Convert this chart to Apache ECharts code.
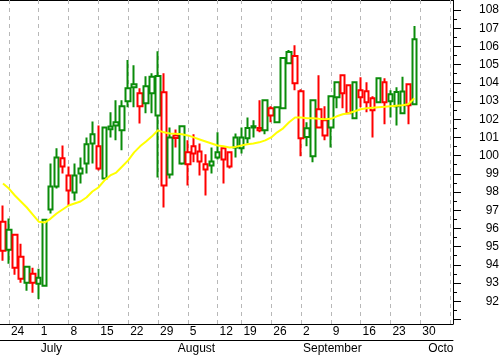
<!DOCTYPE html>
<html>
<head>
<meta charset="utf-8">
<script src="https://cdn.jsdelivr.net/npm/echarts@6.0.0/dist/echarts.min.js"></script>
<style>
  html, body { margin: 0; padding: 0; background: #fff; }
  #chart { width: 502px; height: 355px; }
</style>
</head>
<body>
<div id="chart"></div>
<script>
// trading days shown on the axis (Jun 21 .. Oct 7, 2013)
const dates = [
  "2013-06-21",
  "2013-06-24", "2013-06-25", "2013-06-26", "2013-06-27", "2013-06-28",
  "2013-07-01", "2013-07-02", "2013-07-03", "2013-07-04", "2013-07-05",
  "2013-07-08", "2013-07-09", "2013-07-10", "2013-07-11", "2013-07-12",
  "2013-07-15", "2013-07-16", "2013-07-17", "2013-07-18", "2013-07-19",
  "2013-07-22", "2013-07-23", "2013-07-24", "2013-07-25", "2013-07-26",
  "2013-07-29", "2013-07-30", "2013-07-31", "2013-08-01", "2013-08-02",
  "2013-08-05", "2013-08-06", "2013-08-07", "2013-08-08", "2013-08-09",
  "2013-08-12", "2013-08-13", "2013-08-14", "2013-08-15",
  "2013-08-19", "2013-08-20", "2013-08-21", "2013-08-22", "2013-08-23",
  "2013-08-26", "2013-08-27", "2013-08-28", "2013-08-29", "2013-08-30",
  "2013-09-02", "2013-09-03", "2013-09-04", "2013-09-05", "2013-09-06",
  "2013-09-09", "2013-09-10", "2013-09-11", "2013-09-12", "2013-09-13",
  "2013-09-16", "2013-09-17", "2013-09-18", "2013-09-19", "2013-09-20",
  "2013-09-23", "2013-09-24", "2013-09-25", "2013-09-26", "2013-09-27",
  "2013-09-30", "2013-10-01", "2013-10-02", "2013-10-03", "2013-10-04",
  "2013-10-07"
];

const opens = [
  96.37, 94.83, 95.66, 94.45, 93.01, 93.51, 92.96, 92.85, 97.04, 98.30,
  99.85, 98.91, 97.97, 99.02, 99.57, 100.67, 100.51, 98.74, 101.45, 101.83,
  101.39, 102.99, 103.92, 102.71, 102.88, 103.43, 102.21, 103.48, 98.96, 101.11,
  99.57, 99.52, 100.51, 100.23, 99.24, 99.46, 99.90, 100.40, 100.18, 101.00,
  100.40, 100.95, 101.62, 101.52, 101.39, 102.60, 101.83, 102.60, 105.08, 105.47,
  103.54, 101.50, 99.96, 102.55, 101.94, 101.55, 103.21, 104.42, 103.87, 102.05,
  103.59, 103.54, 103.15, 102.93, 104.03, 103.37, 102.71, 102.33, 103.92, 102.82
];
const highs = [
  97.26, 96.54, 95.71, 95.16, 93.95, 93.84, 93.79, 96.50, 99.57, 100.40,
  100.56, 99.40, 99.57, 99.90, 101.00, 101.88, 101.66, 101.60, 102.38, 103.04,
  103.04, 105.25, 104.97, 103.70, 104.36, 104.53, 105.74, 104.53, 101.55, 101.44,
  101.65, 100.84, 101.17, 100.67, 100.07, 100.45, 101.28, 100.40, 100.18, 101.22,
  101.55, 102.10, 101.94, 103.04, 103.04, 102.71, 102.70, 105.40, 105.80, 106.07,
  103.65, 101.83, 103.04, 104.42, 102.71, 103.26, 104.03, 104.42, 103.90, 104.05,
  104.31, 104.03, 103.26, 104.31, 104.25, 103.59, 103.76, 104.33, 103.98, 107.12
];
const lows = [
  94.23, 94.06, 93.45, 93.01, 92.57, 92.46, 92.13, 92.80, 96.82, 98.20,
  99.02, 97.26, 97.53, 98.47, 99.02, 99.57, 99.18, 98.70, 101.00, 100.84,
  100.29, 102.66, 102.66, 101.77, 102.33, 102.33, 98.80, 97.15, 98.74, 100.45,
  99.50, 98.36, 99.63, 98.91, 97.81, 99.02, 99.79, 98.47, 99.29, 99.90,
  100.12, 100.67, 101.00, 101.28, 101.17, 101.83, 101.80, 102.58, 105.05, 103.59,
  99.96, 100.51, 99.63, 101.50, 100.84, 100.45, 102.60, 102.60, 102.30, 102.00,
  102.66, 102.38, 101.00, 102.90, 101.72, 102.10, 101.66, 102.30, 101.72, 102.80
];
const closes = [
  94.78, 95.93, 93.84, 93.23, 93.90, 93.01, 93.29, 96.48, 98.30, 99.90,
  99.40, 98.08, 98.91, 99.29, 100.62, 101.17, 99.29, 101.55, 101.60, 101.65,
  102.71, 103.70, 103.75, 103.43, 103.81, 104.33, 104.38, 98.36, 101.00, 100.97,
  101.61, 100.18, 100.12, 99.68, 99.52, 99.68, 100.18, 99.79, 99.40, 100.45,
  101.00, 101.52, 101.54, 101.40, 103.04, 102.21, 102.66, 105.36, 105.69, 103.98,
  100.95, 101.02, 103.04, 101.55, 101.11, 103.26, 104.03, 103.43, 102.33, 104.03,
  103.21, 102.93, 102.49, 104.25, 102.93, 102.99, 103.50, 103.52, 102.77, 106.40
];
// close of the session before the first one shown
const prevClose = 96.2;

// moving average (yellow)
const ma = [
  98.47, 98.19, 97.81, 97.48, 97.15, 96.76, 96.37, 96.32, 96.54, 96.82,
  97.04, 97.26, 97.37, 97.48, 97.70, 98.03, 98.25, 98.63, 98.91, 99.07,
  99.40, 99.74, 100.18, 100.51, 100.78, 101.06, 101.39, 101.28, 101.22, 101.20,
  101.17, 101.11, 101.00, 100.89, 100.78, 100.67, 100.56, 100.51, 100.45, 100.48,
  100.56, 100.62, 100.67, 100.73, 100.84, 101.00, 101.28, 101.50, 101.83, 102.10,
  102.10, 102.05, 102.05, 102.02, 102.00, 102.02, 102.16, 102.27, 102.33, 102.44,
  102.55, 102.60, 102.63, 102.66, 102.68, 102.71, 102.74, 102.77, 102.82, 103.15
];

const yLabels = [92, 93, 94, 95, 96, 97, 98, 99, 100, 101, 102, 103, 104, 105, 106, 107, 108];
const yTicks = [91, 92, 93, 94, 95, 96, 97, 98, 99, 100, 101, 102, 103, 104, 105, 106, 107, 108];
const yMinorTicks = [91.5, 92.5, 93.5, 94.5, 95.5, 96.5, 97.5, 98.5, 99.5, 100.5,
  101.5, 102.5, 103.5, 104.5, 105.5, 106.5, 107.5];
const monthNames = ["January", "February", "March", "April", "May", "June", "July",
  "August", "September", "October", "November", "December"];

const GREEN = "#0a8c0a";
const RED = "#ff0000";
const FONT = "Liberation Sans, Arial, sans-serif";

const isMonday = (i) => new Date(dates[i] + "T00:00:00Z").getUTCDay() === 1;
const isMonthStart = (i) => i > 0 && dates[i].slice(5, 7) !== dates[i - 1].slice(5, 7);
const lastMonthStart = dates.reduce((acc, d, i) => (isMonthStart(i) ? i : acc), 0);

// hollow when close > open, red when close below previous close
const candles = opens.map((o, i) => {
  const c = closes[i];
  const prev = i === 0 ? prevClose : closes[i - 1];
  const col = c >= prev ? GREEN : RED;
  return {
    value: [o, c, lows[i], highs[i]],
    itemStyle: { color: "#fff", color0: col, borderColor: col, borderColor0: col },
  };
});
const mondays = dates.filter((d, i) => isMonday(i));

const monthAxisBase = {
  type: "category",
  data: dates,
  position: "bottom",
  offset: 16,
  axisLabel: {
    align: "left",
    padding: [0, 0, 0, 2],
    margin: 3,
    color: "#000",
    fontSize: 12,
    fontFamily: FONT,
    formatter: (v) => monthNames[Number(v.slice(5, 7)) - 1],
  },
  splitLine: { show: false },
};

const chart = echarts.init(document.getElementById("chart"));
chart.setOption({
  animation: false,
  grid: { left: 0, right: 48, top: 0, bottom: 31 },
  xAxis: [
    {
      type: "category",
      data: dates,
      position: "bottom",
      axisLine: { lineStyle: { color: "#000", width: 1 } },
      axisTick: {
        alignWithLabel: true,
        interval: (i) => isMonday(i),
        length: 16,
        lineStyle: { color: "#000" },
      },
      axisLabel: {
        interval: (i) => isMonday(i) && i < dates.length - 1,
        formatter: (v) => String(Number(v.slice(8, 10))),
        align: "left",
        padding: [0, 0, 0, 2],
        margin: 2,
        color: "#000",
        fontSize: 12,
        fontFamily: FONT,
      },
      splitLine: { show: false },
    },
    Object.assign({}, monthAxisBase, {
      axisLine: { lineStyle: { color: "#000", width: 1 } },
      axisTick: {
        alignWithLabel: true,
        interval: (i) => isMonthStart(i),
        length: 15,
        lineStyle: { color: "#000" },
      },
      axisLabel: Object.assign({}, monthAxisBase.axisLabel, {
        interval: (i) => isMonthStart(i) && i !== lastMonthStart,
      }),
    }),
    // last month name gets cut at the right edge of the plot
    Object.assign({}, monthAxisBase, {
      axisLine: { show: false },
      axisTick: { show: false },
      axisLabel: Object.assign({}, monthAxisBase.axisLabel, {
        interval: (i) => i === lastMonthStart,
        width: 28,
        overflow: "truncate",
        ellipsis: "",
      }),
    }),
    {
      type: "category",
      data: dates,
      position: "top",
      axisLine: { lineStyle: { color: "#000", width: 1 } },
      axisTick: { show: false },
      axisLabel: { show: false },
    },
  ],
  yAxis: [
    {
      type: "value",
      position: "right",
      min: 90.75,
      max: 108.55,
      axisLine: { show: true, lineStyle: { color: "#000" } },
      axisTick: { show: true, length: 8, customValues: yTicks, lineStyle: { color: "#000" } },
      axisLabel: {
        customValues: yLabels,
        align: "right",
        margin: 46,
        color: "#000",
        fontSize: 12,
        fontFamily: FONT,
      },
      splitLine: { show: false },
    },
    {
      type: "value",
      position: "right",
      min: 90.75,
      max: 108.55,
      axisLine: { show: false },
      axisTick: { show: true, length: 4, customValues: yMinorTicks, lineStyle: { color: "#000" } },
      axisLabel: { show: false },
      splitLine: { show: false },
    },
  ],
  series: [
    {
      // weekly dashed grid lines
      type: "line",
      data: [],
      z: 1,
      markLine: {
        silent: true,
        z: 1,
        symbol: ["none", "none"],
        label: { show: false },
        lineStyle: { color: "#b8b8b8", type: [4, 4], width: 1 },
        data: mondays.map((d) => ({ xAxis: d })),
      },
    },
    {
      type: "candlestick",
      data: candles,
      barWidth: 5,
      z: 3,
      itemStyle: { borderWidth: 2 },
    },
    {
      type: "line",
      data: ma,
      z: 4,
      symbol: "none",
      lineStyle: { color: "#ffff00", width: 2 },
    },
  ],
});
</script>
</body>
</html>
